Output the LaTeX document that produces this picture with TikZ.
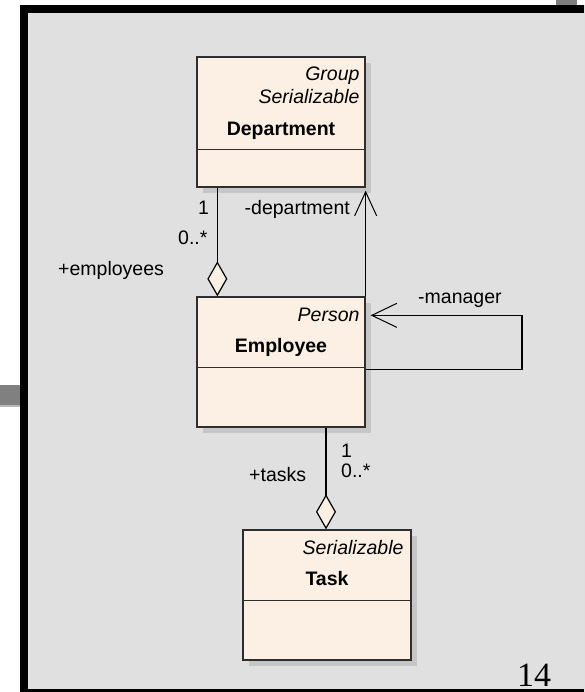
\documentclass[tikz,border=0pt]{standalone}
\usepackage{fontspec}
\setmainfont{Liberation Sans}
\newfontfamily\pagenumfont{Liberation Serif}
\usetikzlibrary{arrows.meta,shadows}
\definecolor{pagegray}{HTML}{E0E0E0}
\definecolor{boxfill}{HTML}{FBF0E3}
\definecolor{shadowgray}{HTML}{C6C6C6}
\definecolor{tabgray}{HTML}{808080}
\definecolor{edgecol}{HTML}{2E2E2E}
\begin{document}
\begin{tikzpicture}[x=1pt,y=-1pt,
  classbox/.style={draw=edgecol, line width=1.3pt, fill=boxfill,
    minimum width=168pt, minimum height=130pt, inner sep=0pt,
    drop shadow={shadow xshift=6pt, shadow yshift=-6pt, fill=shadowgray, opacity=1}},
  divider/.style={draw=edgecol, line width=1.3pt},
  txt/.style={font=\fontsize{19.5}{23}\selectfont, inner sep=0pt, text=black},
  stereo/.style={txt, font=\fontsize{19.5}{23}\selectfont\itshape, anchor=base east},
  cname/.style={txt, font=\fontsize{19.5}{23}\selectfont\bfseries, anchor=base},
  conn/.style={draw=black, line width=1.2pt},
  aggr/.style={conn, -{Diamond[length=35pt,width=20pt,fill=boxfill,line width=1.2pt]}},
  navend/.style={conn, -{Straight Barb[length=24pt,width=22pt,line width=1pt]}}
]
% page area
\useasboundingbox (0,0) rectangle (584,692);
\clip (0,0) rectangle (584,692);
\fill[white] (0,0) rectangle (584,692);
\fill[tabgray] (556,0) rectangle (577,6);
\fill[tabgray] (0,385) rectangle (20,405);
\fill[gray!55] (0,405) rectangle (20,406.5);
\fill[black] (20,5) rectangle (620,720);
\fill[pagegray] (28,13) rectangle (620,689);

% classes
\node[classbox] (dept) at (281,122) {};
\node[classbox] (emp) at (281,362) {};
\node[classbox] (task) at (327,595) {};

\draw[divider] ([shift={(0,93)}]dept.north west) -- ([shift={(0,93)}]dept.north east);
\draw[divider] ([shift={(0,71)}]emp.north west) -- ([shift={(0,71)}]emp.north east);
\draw[divider] ([shift={(0,71)}]task.north west) -- ([shift={(0,71)}]task.north east);

\node[stereo] (deptst1) at ([shift={(-6,24)}]dept.north east) {Group};
\node[stereo] (deptst2) at ([shift={(-6,47)}]dept.north east) {Serializable};
\node[cname] (deptname) at ([shift={(0,79)}]dept.north) {Department};

\node[stereo] (empst) at ([shift={(-6,25)}]emp.north east) {Person};
\node[cname] (empname) at ([shift={(0,56)}]emp.north) {Employee};

\node[stereo] (taskst) at ([shift={(-8,25)}]task.north east) {Serializable};
\node[cname] (taskname) at ([shift={(0,56)}]task.north) {Task};

% Department <>-- Employee
\draw[aggr] ([shift={(21,0)}]dept.south west) -- ([shift={(21,0)}]emp.north west);
\node[txt, anchor=base west] (m1a) at (198,215) {1};
\node[txt, anchor=base west] (m1b) at (178,245) {0..*};
\node[txt, anchor=base west] (r1) at (58,275) {+employees};

% Employee --> Department
\draw[navend] (emp.north east) -- ([shift={(0,3)}]dept.south east);
\node[txt, anchor=base east] (r2) at (350,215) {-department};

% Employee --> Employee (manager)
\coordinate (loopR) at (522,343);
\draw[conn, {Straight Barb[length=25pt,width=24pt,line width=1pt]}-]
  ([shift={(5,19)}]emp.north east) -| (loopR) |- ([shift={(0,73)}]emp.north east);
\node[txt, anchor=base west] (r3) at (418,303) {-manager};

% Employee <>-- Task
\coordinate (taskjoin) at ([shift={(45,0)}]emp.south);
\draw[aggr] (taskjoin) -- (taskjoin |- task.north);
\node[txt, anchor=base west] (m2a) at (341,457) {1};
\node[txt, anchor=base west] (m2b) at (341,477) {0..*};
\node[txt, anchor=base west] (r4) at (249,481) {+tasks};

% page number
\node[inner sep=0pt, anchor=base, font=\pagenumfont\fontsize{34}{40}\selectfont] (pagenum) at (534,686) {14};
\end{tikzpicture}
\end{document}
